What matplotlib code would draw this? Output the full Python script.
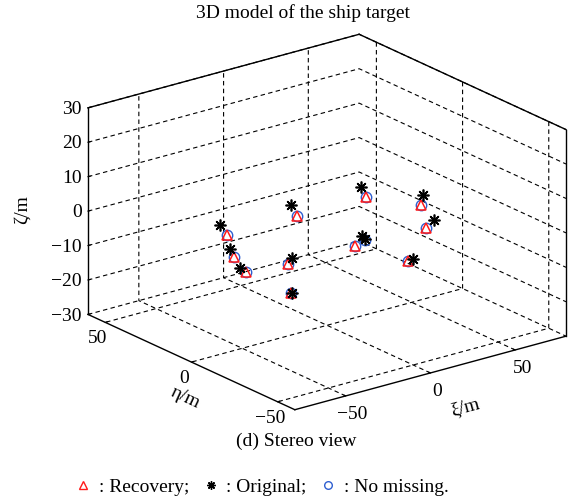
import numpy as np
import matplotlib
matplotlib.use('Agg')
import matplotlib.pyplot as plt
from mpl_toolkits.mplot3d import proj3d
from matplotlib.lines import Line2D

plt.rcParams['font.family'] = ['Liberation Serif', 'DejaVu Serif']
plt.rcParams['grid.color'] = 'black'
plt.rcParams['grid.linestyle'] = (0, (4, 3))
plt.rcParams['grid.linewidth'] = 0.8

# ---------------- data ----------------
# Recovery (red triangles)
rec_xi   = [-59.0, -54.9, -47.8, -17.7, -23.0, -21.3, 23.0, 16.5, 55.5, 58.4, 47.8]
rec_eta  = [0.0, 0.0, 0.0, 0.0, 0.0, 0.0, 0.0, 0.0, 0.0, 0.0, 0.0]
rec_zeta = [4.0, -2.9, -8.2, 4.1, -9.1, -17.8, 4.2, -9.1, -2.4, -9.5, -17.6]

# No missing (blue circles)
nom_xi   = [-59.0, -54.9, -47.8, -17.7, -23.0, -21.3, 23.0, 16.5, 22.4, 55.5, 58.4, 47.8]
nom_eta  = [0.0, 0.0, 0.0, 0.0, 0.0, 0.0, 0.0, 0.0, 0.0, 0.0, 0.0, 0.0]
nom_zeta = [4.0, -2.9, -8.2, 4.1, -9.1, -17.8, 4.2, -9.1, -8.2, -2.4, -9.5, -17.6]

# Original (black asterisks)
org_xi   = [-63.2, -57.3, -51.4, -21.3, -20.7, -20.7, 20.1, 20.7, 22.4, 56.7, 63.2, 50.8]
org_eta  = [0.0, 0.0, 0.0, 0.0, 0.0, 0.0, 0.0, 0.0, 0.0, 0.0, 0.0, 0.0]
org_zeta = [7.5, -0.3, -6.6, 7.7, -7.7, -17.9, 7.5, -6.8, -7.9, 0.3, -7.8, -17.4]

xi_lim, eta_lim, zeta_lim = (-80, 80), (-60, 60), (-30, 30)
xi_ticks = [-50, 0, 50]
eta_ticks = [-50, 0, 50]
zeta_ticks = [-30, -20, -10, 0, 10, 20, 30]

W, H = 578, 497
fig = plt.figure(figsize=(W / 100, H / 100), dpi=100)
side = 0.8
ax = fig.add_axes([0.1, 0.1, side * H / W, side], projection='3d',
                  proj_type='ortho', computed_zorder=False)
ax.view_init(elev=20.7, azim=-127.5)
ax.set_box_aspect((342, 340, 221))

ax.set_xlim(*xi_lim)
ax.set_ylim(*eta_lim)
ax.set_zlim(*zeta_lim)
ax.set_xticks(xi_ticks)
ax.set_yticks(eta_ticks)
ax.set_zticks(zeta_ticks)

for axis in (ax.xaxis, ax.yaxis, ax.zaxis):
    axis.set_pane_color((1, 1, 1, 0))
    axis.pane.set_edgecolor('none')
    axis.line.set_color('none')
    axis._axinfo['grid'].update(color='black', linestyle=(0, (4, 3)), linewidth=0.8)
    axis._axinfo['tick']['inward_factor'] = 0.0
    axis._axinfo['tick']['outward_factor'] = 0.1
ax.tick_params(labelsize=14, colors='black')
ax.tick_params(axis='x', pad=-1.5)
ax.tick_params(axis='y', pad=-2.5)
ax.tick_params(axis='z', pad=-5.5)
for t in ax.get_zticklabels():
    t.set_horizontalalignment('right')
    t.set_verticalalignment('center_baseline')

# box edges (frame)
x0, x1 = xi_lim
y0, y1 = eta_lim
z0, z1 = zeta_lim
edge_kw = dict(color='black', lw=1.0)
ax.plot([x0, x1], [y1, y1], [z1, z1], **edge_kw)
ax.plot([x1, x1], [y1, y0], [z1, z1], **edge_kw)
ax.plot([x0, x0], [y1, y1], [z0, z1], **edge_kw)
ax.plot([x1, x1], [y0, y0], [z0, z1], **edge_kw)
ax.plot([x0, x1], [y0, y0], [z0, z0], **edge_kw)
ax.plot([x0, x0], [y0, y1], [z0, z0], **edge_kw)

blue = '#2f5fd0'
red = '#ff1a1a'
h_nom, = ax.plot(nom_xi, nom_eta, nom_zeta, ls='none', marker='o', ms=7.5,
                 mfc='none', mec=blue, mew=1.0)
h_rec, = ax.plot(rec_xi, rec_eta, rec_zeta, ls='none', marker='^', ms=7.5,
                 mfc='none', mec=red, mew=1.1)
h_org, = ax.plot(org_xi, org_eta, org_zeta, ls='none', marker=(8, 2, 0), ms=8.5,
                 mec='black', mew=1.2)

# ---- fit axes so that the box lands where it is in the reference ----
fig.canvas.draw()

def corner(x, y, z):
    xs, ys, _ = proj3d.proj_transform(x, y, z, ax.get_proj())
    return ax.transData.transform((xs, ys))

L = corner(x0, y1, z0)[0]
R = corner(x1, y0, z0)[0]
T = corner(x1, y1, z1)[1]
B = corner(x0, y0, z0)[1]
tL, tR, tT, tB = 88, 566, H - 34, H - 410
s = (tR - tL) / (R - L)
pos = ax.get_position()
axc_x = (pos.x0 + pos.x1) / 2 * W
axc_y = (pos.y0 + pos.y1) / 2 * H
bc_x, bc_y = (L + R) / 2, (T + B) / 2
new_cx = (tL + tR) / 2 - s * (bc_x - axc_x)
new_cy = (tT + tB) / 2 - s * (bc_y - axc_y)
new_w = pos.width * W * s
new_h = pos.height * H * s
ax.set_position([(new_cx - new_w / 2) / W, (new_cy - new_h / 2) / H, new_w / W, new_h / H])

# axis labels
fig.text(22 / W, 1 - 210 / H, 'ζ/m', ha='center', va='center', rotation=90, fontsize=14)
fig.text(185 / W, 1 - 398 / H, 'η/m', ha='center', va='center', rotation=-25,
         rotation_mode='anchor', fontsize=14)
fig.text(465 / W, 1 - 407 / H, 'ξ/m', ha='center', va='center', rotation=15,
         rotation_mode='anchor', fontsize=14)

fig.text(303 / W, 1 - 13 / H, '3D model of the ship target', ha='center', va='center', fontsize=14)
fig.text(296 / W, 1 - 441 / H, '(d) Stereo view', ha='center', va='center', fontsize=14)

lh = [Line2D([], [], ls='none', marker='^', ms=6, mfc='none', mec=red, mew=1.0),
      Line2D([], [], ls='none', marker=(8, 2, 0), ms=6, mec='black', mew=1.0),
      Line2D([], [], ls='none', marker='o', ms=5.5, mfc='none', mec=blue, mew=1.0)]
fig.legend(lh, [': Recovery;', ': Original;', ': No missing.'], ncol=3, frameon=False,
           loc='center', bbox_to_anchor=(262 / W, 1 - 487 / H), fontsize=14,
           handlelength=0.8, handletextpad=0.4, columnspacing=0.7)

fig.savefig('out.png', dpi=100)
